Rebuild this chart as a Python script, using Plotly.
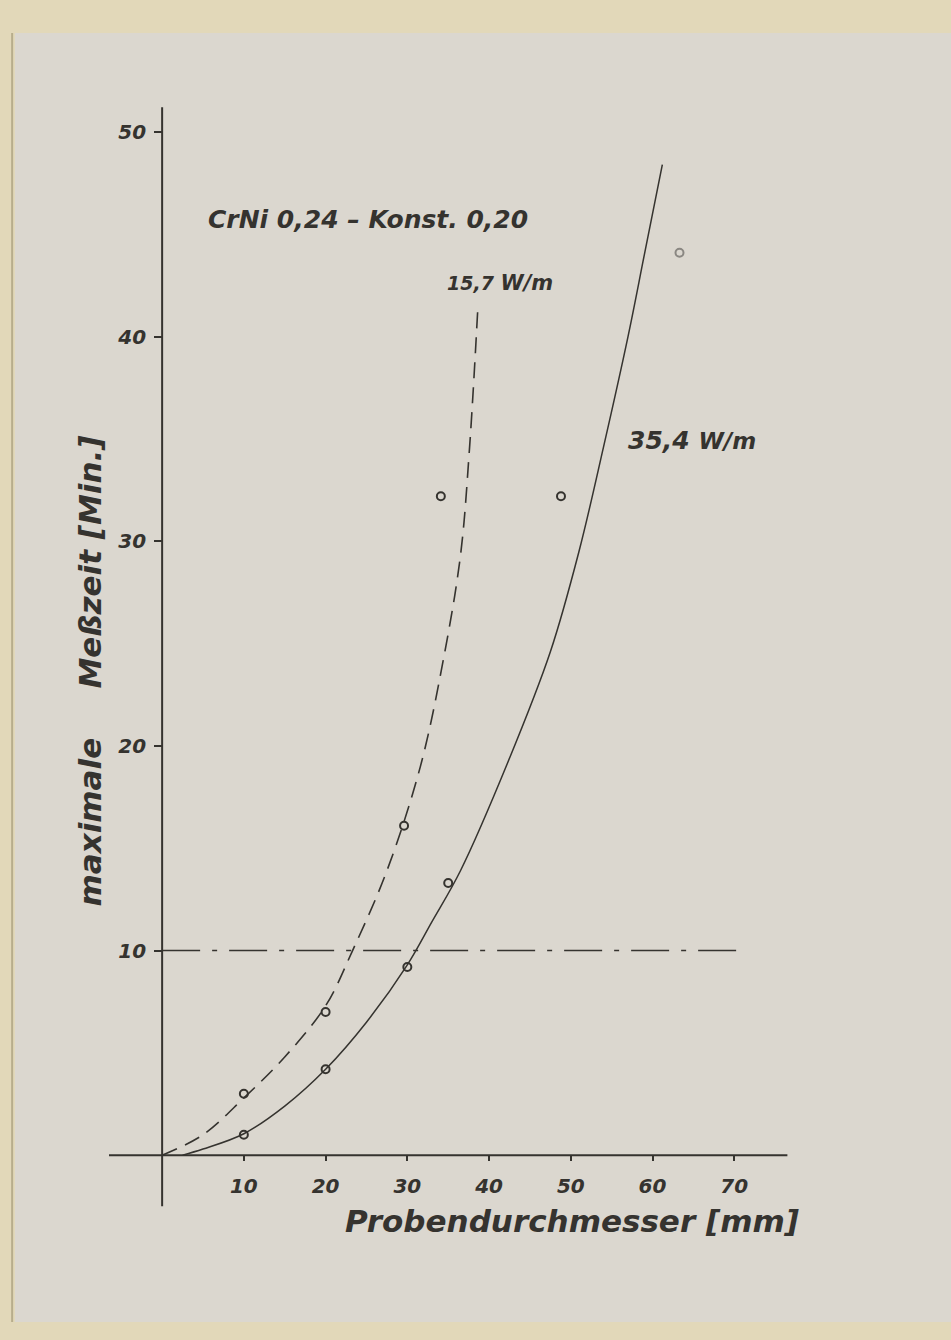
import plotly.graph_objects as go

# --- data ---
# measured points, 15,7 W/m (dashed curve)
x_pts_157 = [10, 20, 29.6, 34.1]
y_pts_157 = [3.0, 7.0, 16.1, 32.2]
# measured points, 35,4 W/m (solid curve)
x_pts_354 = [10, 20, 30, 35, 48.8, 63.3]
y_pts_354 = [1.0, 4.2, 9.2, 13.3, 32.2, 44.1]

# hand-drawn fitted curves
x_curve_157 = [0, 5, 10, 15, 20, 23.3, 27.5, 31.6, 34.4, 36.5, 37.6, 38.6]
y_curve_157 = [0, 1.0, 2.8, 4.8, 7.3, 10.0, 13.9, 19.0, 24.2, 29.3, 34.5, 41.2]
x_curve_354 = [2.5, 5, 10, 15, 20, 25, 30, 33, 36.5, 42.3, 47.5, 51, 54, 57, 59, 61.2]
y_curve_354 = [0, 0.3, 1.05, 2.4, 4.2, 6.5, 9.3, 11.4, 13.9, 19.2, 24.6, 29.5, 34.6, 40.0, 44.0, 48.4]

# dash-dot limit line
x_limit = [0, 71]
y_limit = [10, 10]

x_ticks = [10, 20, 30, 40, 50, 60, 70]
y_ticks = [10, 20, 30, 40, 50]

INK = "#35332f"
FAINT = "#8a8782"
PAPER = "#dbd7cf"
FRAME = "#e2d8b9"
FONT = "DejaVu Sans"

fig = go.Figure()

fig.add_trace(go.Scatter(x=x_curve_157, y=y_curve_157, mode="lines", line_shape="spline",
                         line=dict(color=INK, width=1.6, dash="16px,9px"), showlegend=False))
fig.add_trace(go.Scatter(x=x_curve_354, y=y_curve_354, mode="lines", line_shape="spline",
                         line=dict(color=INK, width=1.5), showlegend=False))
fig.add_trace(go.Scatter(x=x_limit, y=y_limit, mode="lines",
                         line=dict(color=INK, width=1.6, dash="38px,12px,5px,12px"), showlegend=False))
fig.add_trace(go.Scatter(x=x_pts_157, y=y_pts_157, mode="markers",
                         marker=dict(symbol="circle-open", size=8, color=INK,
                                     line=dict(color=INK, width=2)),
                         showlegend=False))
pt_cols = [INK] * 5 + [FAINT]
fig.add_trace(go.Scatter(x=x_pts_354, y=y_pts_354, mode="markers",
                         marker=dict(symbol="circle-open", size=8, color=pt_cols,
                                     line=dict(color=pt_cols, width=2)),
                         showlegend=False))

shapes = [
    # photographic paper
    dict(type="rect", xref="paper", yref="paper", x0=-0.133, x1=1.2, y0=-0.0371, y1=1.0489,
         fillcolor=PAPER, line=dict(width=0), layer="below"),
    dict(type="line", xref="paper", yref="paper", x0=-0.137, x1=-0.137, y0=-0.0371, y1=1.0489,
         line=dict(color="#b7ad8c", width=2), layer="below"),
    # hand-drawn axes
    dict(type="line", xref="x", yref="y", x0=-6.5, x1=76.5, y0=0, y1=0,
         line=dict(color=INK, width=2)),
    dict(type="line", xref="x", yref="y", x0=0, x1=0, y0=-2.5, y1=51.2,
         line=dict(color=INK, width=2)),
]

def f(size, color=INK):
    return dict(family=FONT, size=size, color=color, style="italic", weight="bold")

annotations = [
    dict(x=25.2, y=45.7, text="CrNi 0,24 – Konst. 0,20", showarrow=False, font=f(25)),
    dict(x=34.6, y=42.6, text="15,7 <span style='font-size:21px'>W/m</span>", showarrow=False,
         xanchor="left", font=f(19)),
    dict(x=56.7, y=34.9, text="35,4 <span style='font-size:23px'>W/m</span>", showarrow=False,
         xanchor="left", font=f(25)),
    dict(xref="paper", x=-0.027, xanchor="center", y=16.3, text="maximale", showarrow=False,
         textangle=-90, font=f(31)),
    dict(xref="paper", x=-0.027, xanchor="center", y=29.0, text="Meßzeit [Min.]", showarrow=False,
         textangle=-90, font=f(31)),
    dict(x=50.1, y=-3.2, text="Probendurchmesser [mm]", showarrow=False, font=f(31)),
]

fig.update_layout(
    width=951, height=1340,
    margin=dict(l=109, r=135, t=91, b=62),
    paper_bgcolor=FRAME, plot_bgcolor="rgba(0,0,0,0)",
    shapes=shapes, annotations=annotations,
    xaxis=dict(range=[-6.5, 80], showgrid=False, zeroline=False, showline=False,
               anchor="free", position=6 / 58,
               tickvals=x_ticks, ticktext=[str(v) for v in x_ticks],
               ticks="outside", ticklen=5, tickwidth=2, tickcolor=INK,
               ticklabelstandoff=8, tickfont=f(20)),
    yaxis=dict(range=[-6, 52], showgrid=False, zeroline=False, showline=False,
               anchor="free", position=6.5 / 86.5,
               tickvals=y_ticks, ticktext=[str(v) for v in y_ticks],
               ticks="outside", ticklen=8, tickwidth=2, tickcolor=INK,
               ticklabelstandoff=4, tickfont=f(20)),
)

fig.write_html("out.html", config={"displayModeBar": False},
               post_script="document.body.style.margin='0px';")
